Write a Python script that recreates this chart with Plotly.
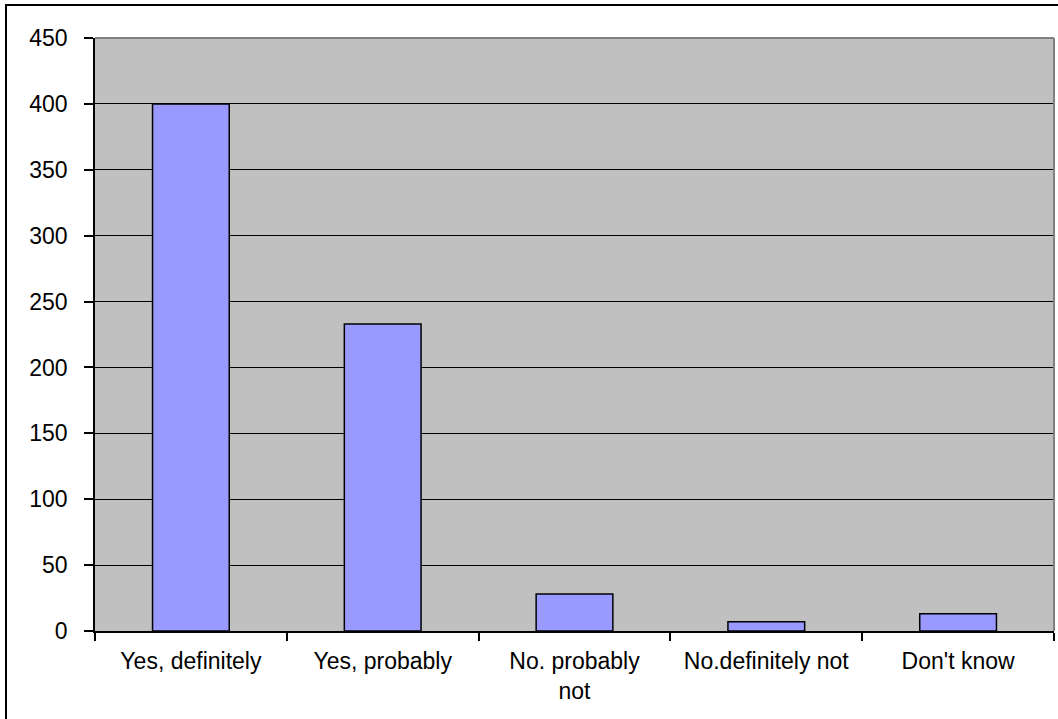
import plotly.graph_objects as go

# Survey responses
categories = ["Yes, definitely", "Yes, probably", "No. probably<br>not", "No.definitely not", "Don't know"]
counts = [400, 233, 28, 7, 13]
y_ticks = [0, 50, 100, 150, 200, 250, 300, 350, 400, 450]

W, H = 1058, 719
L, R, T, B = 95, 4, 38, 88
pw, ph = W - L - R, H - T - B

fig = go.Figure(
    go.Bar(
        x=categories,
        y=counts,
        marker=dict(color="#9999FF", line=dict(color="black", width=1.5)),
    )
)

font = dict(family="Liberation Sans, Arial, sans-serif", size=23, color="black")

fig.update_layout(
    width=W,
    height=H,
    margin=dict(l=L, r=R, t=T, b=B, pad=0),
    paper_bgcolor="white",
    plot_bgcolor="#C0C0C0",
    bargap=0.6,
    showlegend=False,
    font=font,
    xaxis=dict(
        type="category",
        tickson="boundaries",
        ticks="outside",
        ticklen=8,
        tickcolor="black",
        tickwidth=1.5,
        showgrid=False,
        showline=True,
        linecolor="black",
        linewidth=1.5,
        tickfont=font,
        ticklabelstandoff=9,
        fixedrange=True,
    ),
    yaxis=dict(
        range=[0, 450],
        tickvals=y_ticks,
        ticks="outside",
        ticklen=9,
        tickcolor="black",
        tickwidth=1.5,
        showgrid=True,
        gridcolor="black",
        gridwidth=1,
        showline=True,
        linecolor="black",
        linewidth=1.5,
        zeroline=False,
        tickfont=font,
        ticklabelstandoff=12,
        fixedrange=True,
    ),
    shapes=[
        # grey border on the top and right of the plotting area
        dict(type="line", xref="paper", yref="paper", x0=0, x1=1, y0=1, y1=1,
             line=dict(color="#808080", width=2), layer="above"),
        dict(type="line", xref="paper", yref="paper", x0=1, x1=1, y0=0, y1=1,
             line=dict(color="#808080", width=2), layer="above"),
        # outer chart frame
        dict(type="rect", xref="paper", yref="paper",
             x0=(6 - L) / pw, x1=(W + 5 - L) / pw,
             y0=-(H + 5 - T - ph) / ph, y1=(ph + T - 5) / ph,
             line=dict(color="black", width=2), fillcolor="rgba(0,0,0,0)"),
    ],
)

fig.write_html("out.html")
